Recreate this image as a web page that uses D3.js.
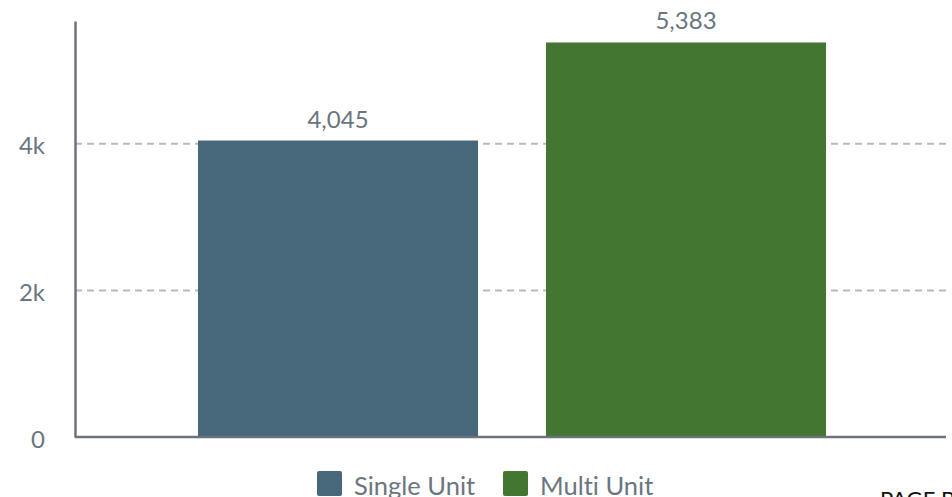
<!DOCTYPE html>
<html>
<head>
<meta charset="utf-8">
<script src="https://cdn.jsdelivr.net/npm/d3@7"></script>
<style>
  html, body { margin: 0; padding: 0; background: #fff; overflow: hidden; }
  svg { display: block; }
  text { font-family: Lato, "Open Sans", sans-serif; font-variant-ligatures: none; }
</style>
</head>
<body>
<svg id="chart" width="952" height="497"></svg>
<script>
// Housing units by building type
const categories = ["Single Unit", "Multi Unit"];
const values = [4045, 5383];
const colors = ["#46687a", "#437630"];
const yTicks = [0, 2000, 4000];
const yTickLabels = ["0", "2k", "4k"];

const svg = d3.select("#chart");
const textColor = "#6b7580";

const x = d3.scaleBand()
  .domain(categories)
  .range([75, 949])
  .paddingInner(0.1954)
  .paddingOuter(0.3534);

const y = d3.scaleLinear()
  .domain([0, 5676])
  .range([437, 21]);

// dashed gridlines
svg.append("g")
  .selectAll("line")
  .data(yTicks.filter(d => d > 0))
  .join("line")
  .attr("x1", 75).attr("x2", 949)
  .attr("y1", d => y(d)).attr("y2", d => y(d))
  .attr("stroke", "#b9b9b9")
  .attr("stroke-width", 2)
  .attr("stroke-dasharray", "7,5");

// bars
svg.append("g")
  .selectAll("rect")
  .data(values)
  .join("rect")
  .attr("x", (d, i) => x(categories[i]))
  .attr("width", x.bandwidth())
  .attr("y", d => y(d))
  .attr("height", d => y(0) - y(d))
  .attr("fill", (d, i) => colors[i]);

// value labels
svg.append("g")
  .selectAll("text")
  .data(values)
  .join("text")
  .attr("x", (d, i) => x(categories[i]) + x.bandwidth() / 2)
  .attr("y", d => y(d) - 13)
  .attr("text-anchor", "middle")
  .attr("font-size", 24)
  .attr("fill", textColor)
  .text(d => d3.format(",")(d));

// y axis
const yAxis = d3.axisLeft(y)
  .tickValues(yTicks)
  .tickFormat((d, i) => yTickLabels[i])
  .tickSize(0)
  .tickPadding(30);
const ga = svg.append("g").attr("transform", "translate(75,0)").call(yAxis);
ga.select(".domain").attr("stroke", "#6b737d").attr("stroke-width", 2.5);
ga.selectAll("text")
  .attr("font-family", "Lato, sans-serif")
  .attr("font-size", 24)
  .attr("fill", textColor)
  .attr("dy", "0.42em");

// baseline
svg.append("line")
  .attr("x1", 75).attr("x2", 946)
  .attr("y1", y(0)).attr("y2", y(0))
  .attr("stroke", "#6b737d")
  .attr("stroke-width", 2.5);

// legend
const legend = svg.append("g");
const legendX = [317, 503];
categories.forEach((c, i) => {
  legend.append("rect")
    .attr("x", legendX[i]).attr("y", 471)
    .attr("width", 25).attr("height", 25)
    .attr("rx", 2)
    .attr("fill", colors[i]);
  legend.append("text")
    .attr("x", legendX[i] + 37).attr("y", 495)
    .attr("font-size", 25.5)
    .attr("fill", textColor)
    .text(c);
});

// page footer
svg.append("text")
  .attr("x", 880).attr("y", 507)
  .attr("font-family", "Liberation Sans, Arial, sans-serif")
  .attr("font-size", 22)
  .attr("fill", "#111")
  .text("PAGE BREAK");
</script>
</body>
</html>
